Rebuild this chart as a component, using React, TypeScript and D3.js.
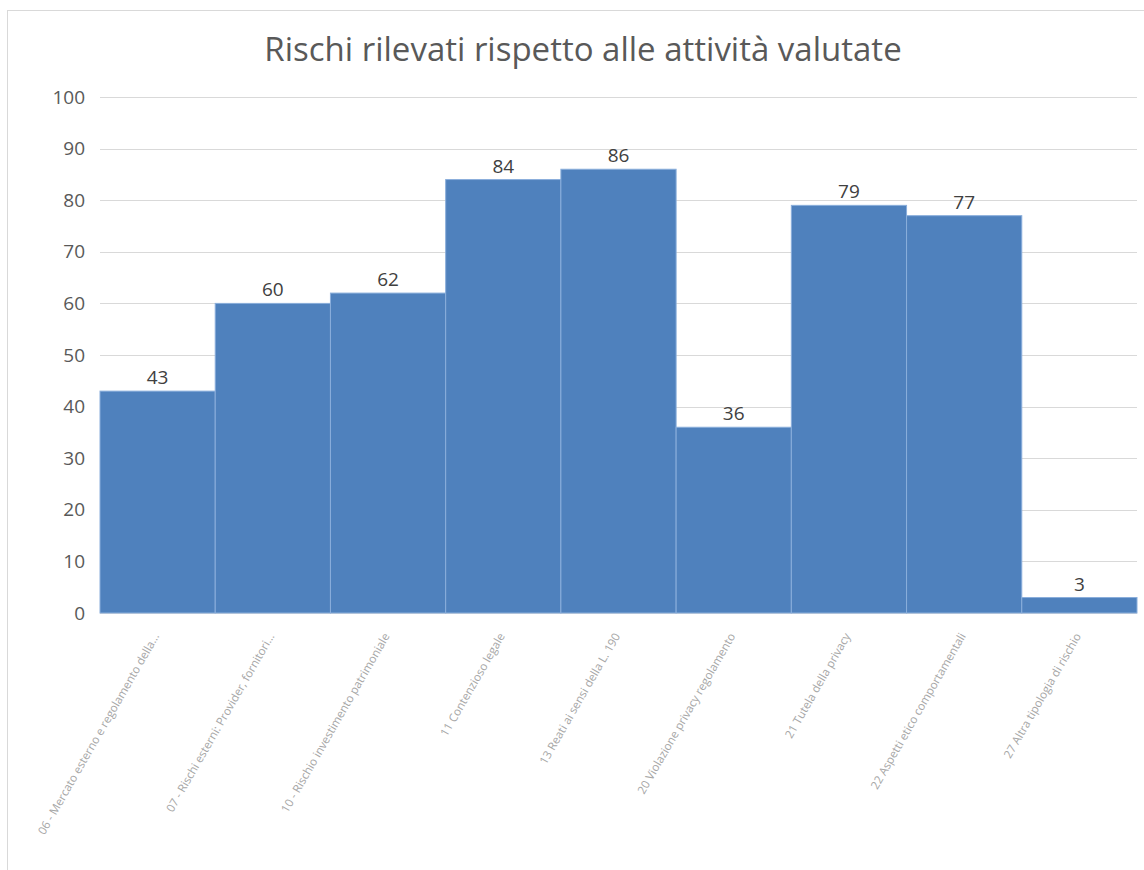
import React from "react";
import * as d3 from "d3";

const categories: string[] = [
  "06 - Mercato esterno e regolamento della...",
  "07 - Rischi esterni: Provider, fornitori...",
  "10 - Rischio investimento patrimoniale",
  "11 Contenzioso legale",
  "13 Reati ai sensi della L. 190",
  "20 Violazione privacy regolamento",
  "21 Tutela della privacy",
  "22 Aspetti etico comportamentali",
  "27 Altra tipologia di rischio",
];
const values: number[] = [43, 60, 62, 84, 86, 36, 79, 77, 3];
const yTicks: number[] = [0, 10, 20, 30, 40, 50, 60, 70, 80, 90, 100];
const title = "Rischi rilevati rispetto alle attività valutate";

const W = 1144;
const H = 870;
const plot = { left: 100, right: 1137, top: 97, bottom: 613 };
const FONT = "'Open Sans', 'DejaVu Sans', sans-serif";

export default function App() {
  const x = d3
    .scaleBand<string>()
    .domain(categories)
    .range([plot.left, plot.right])
    .paddingInner(0)
    .paddingOuter(0);
  const y = d3.scaleLinear().domain([0, 100]).range([plot.bottom, plot.top]);

  return (
    <svg
      width={W}
      height={H}
      style={{ position: "absolute", left: 0, top: 0, background: "#fff" }}
    >
      <rect x={0} y={0} width={W} height={H} fill="#fff" />
      <rect
        x={7.5}
        y={10.5}
        width={W + 10}
        height={H + 10}
        fill="#fff"
        stroke="#d9d9d9"
        strokeWidth={1}
      />
      <text
        x={583}
        y={61}
        textAnchor="middle"
        fontFamily={FONT}
        fontSize={33}
        fill="#595959"
      >
        {title}
      </text>
      {yTicks.map((t) => (
        <g key={t}>
          <line
            x1={plot.left}
            x2={plot.right}
            y1={Math.round(y(t)) + 0.5}
            y2={Math.round(y(t)) + 0.5}
            stroke="#d9d9d9"
            strokeWidth={1}
          />
          <text
            x={85}
            y={y(t)}
            dy="0.35em"
            textAnchor="end"
            fontFamily={FONT}
            fontSize={19}
            fill="#595959"
          >
            {t}
          </text>
        </g>
      ))}
      {categories.map((c, i) => (
        <rect
          key={c}
          x={x(c)!}
          y={y(values[i])}
          width={x.bandwidth()}
          height={y(0) - y(values[i])}
          fill="#4f81bd"
          stroke="#8aaedb"
          strokeWidth={1}
        />
      ))}
      {categories.map((c, i) => (
        <text
          key={"v" + c}
          x={x(c)! + x.bandwidth() / 2}
          y={y(values[i]) - 7}
          textAnchor="middle"
          fontFamily={FONT}
          fontSize={19}
          fill="#404040"
        >
          {values[i]}
        </text>
      ))}
      {categories.map((c) => {
        const cx = x(c)! + x.bandwidth() / 2 + 2;
        const cy = 636;
        return (
          <text
            key={"l" + c}
            x={cx}
            y={cy}
            transform={`rotate(-60 ${cx} ${cy})`}
            textAnchor="end"
            fontFamily={FONT}
            fontSize={11.5}
            fill="#a6a6a6"
          >
            {c}
          </text>
        );
      })}
    </svg>
  );
}
